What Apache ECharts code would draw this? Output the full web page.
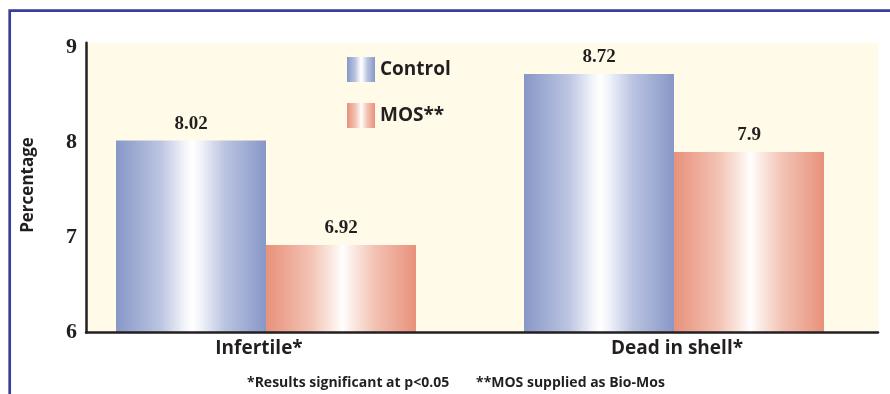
<!DOCTYPE html>
<html>
<head>
<meta charset="utf-8">
<script src="https://cdn.jsdelivr.net/npm/echarts@6/dist/echarts.min.js"></script>
<style>
  html, body { margin: 0; padding: 0; background: #ffffff; }
  #chart { width: 890px; height: 394px; }
</style>
</head>
<body>
<div id="chart"></div>
<script>
// Hatchability outcomes, control vs. MOS-supplemented flocks
var categories = ['Infertile*', 'Dead in shell*'];
var seriesNames = ['Control', 'MOS**'];
var controlValues = [8.02, 8.72];
var mosValues = [6.92, 7.9];
var yTickLabels = ['6', '7', '8', '9'];
var yAxisTitle = 'Percentage';
var footnotes = ['*Results significant at p<0.05', '**MOS supplied as Bio-Mos'];

var SANS = '"Open Sans", Lato, sans-serif';
var SERIF = '"Liberation Serif", "DejaVu Serif", serif';
var INK = '#231f20';

// horizontal sheen: saturated edges fading to a white highlight in the middle
function sheen(edge, mid, pale) {
  return {
    type: 'linear', x: 0, y: 0, x2: 1, y2: 0,
    colorStops: [
      { offset: 0, color: edge },
      { offset: 0.3, color: mid },
      { offset: 0.46, color: pale },
      { offset: 0.51, color: '#ffffff' },
      { offset: 0.56, color: pale },
      { offset: 0.72, color: mid },
      { offset: 1, color: edge }
    ]
  };
}
var blueFill = sheen('#8797c7', '#bcc5e1', '#f4f5fb');
var redFill = sheen('#e8917b', '#f3c3b4', '#fcefea');

var TOP = 42.7, BOTTOM = 61.5, YMIN = 6, YMAX = 9.05;

var chart = echarts.init(document.getElementById('chart'), null, { renderer: 'canvas' });

var valueLabel = {
  show: true, position: 'top', distance: 7,
  fontFamily: SERIF, fontWeight: 'bold', fontSize: 19, color: INK
};

chart.setOption({
  animation: false,
  backgroundColor: '#ffffff',
  grid: [
    // plotting frame with cream background and axis lines
    { left: 86, right: 12, top: TOP, bottom: BOTTOM, show: true, backgroundColor: '#fffbe8', borderWidth: 0, z: 0 },
    // bars
    { left: 62, right: 12, top: TOP, bottom: BOTTOM },
    // category labels
    { left: 50, right: 4, top: TOP, bottom: BOTTOM }
  ],
  xAxis: [
    { gridIndex: 0, type: 'category', data: categories, z: 5,
      axisLine: { show: true, lineStyle: { color: INK, width: 2.5 } },
      axisTick: { show: false }, axisLabel: { show: false }, splitLine: { show: false } },
    { gridIndex: 1, type: 'category', data: categories,
      axisLine: { show: false }, axisTick: { show: false }, axisLabel: { show: false } },
    { gridIndex: 2, type: 'category', data: categories,
      axisLine: { show: false }, axisTick: { show: false },
      axisLabel: { show: true, margin: 7, fontFamily: SANS, fontWeight: 'bold', fontSize: 19, color: INK } }
  ],
  yAxis: [
    { gridIndex: 0, type: 'value', min: YMIN, max: YMAX, interval: 1, z: 5,
      axisLine: { show: true, lineStyle: { color: INK, width: 2.5 } },
      axisTick: { show: false }, splitLine: { show: false },
      axisLabel: {
        show: true, margin: 9, showMaxLabel: false,
        fontFamily: SERIF, fontWeight: 'bold', fontSize: 22, color: INK,
        formatter: function (v) {
          var s = String(v);
          return yTickLabels.indexOf(s) >= 0 ? s : '';
        }
      } },
    { gridIndex: 1, type: 'value', min: YMIN, max: YMAX,
      axisLine: { show: false }, axisTick: { show: false }, axisLabel: { show: false }, splitLine: { show: false } },
    { gridIndex: 2, type: 'value', min: YMIN, max: YMAX,
      axisLine: { show: false }, axisTick: { show: false }, axisLabel: { show: false }, splitLine: { show: false } }
  ],
  legend: {
    orient: 'vertical', left: 347, top: 57, padding: 0,
    itemWidth: 28, itemHeight: 25, itemGap: 21,
    icon: 'rect',
    data: seriesNames,
    textStyle: { fontFamily: SANS, fontWeight: 'bold', fontSize: 19, color: INK }
  },
  series: [
    { name: seriesNames[0], type: 'bar', xAxisIndex: 1, yAxisIndex: 1,
      data: controlValues, barWidth: 150, barGap: '0%',
      itemStyle: { color: blueFill }, label: valueLabel },
    { name: seriesNames[1], type: 'bar', xAxisIndex: 1, yAxisIndex: 1,
      data: mosValues, barWidth: 150, barGap: '0%',
      itemStyle: { color: redFill }, label: valueLabel }
  ],
  graphic: [
    // blue page frame along the top and left edges
    { type: 'polyline', silent: true, z: 10,
      shape: { points: [[9.7, 394], [9.7, 10.7], [890, 10.7]] },
      style: { fill: null, stroke: '#3a3d9b', lineWidth: 2.7 } },
    { type: 'text', x: 28, y: 185, rotation: Math.PI / 2, silent: true,
      style: { text: yAxisTitle, fontFamily: SANS, fontWeight: 'bold', fontSize: 17, fill: INK,
               align: 'center', verticalAlign: 'middle' } },
    { type: 'text', x: 247, y: 383, silent: true,
      style: { text: footnotes[0], fontFamily: SANS, fontWeight: 'bold', fontSize: 14, fill: INK,
               align: 'left', verticalAlign: 'middle' } },
    { type: 'text', x: 476, y: 383, silent: true,
      style: { text: footnotes[1], fontFamily: SANS, fontWeight: 'bold', fontSize: 14, fill: INK,
               align: 'left', verticalAlign: 'middle' } }
  ]
});
</script>
</body>
</html>
